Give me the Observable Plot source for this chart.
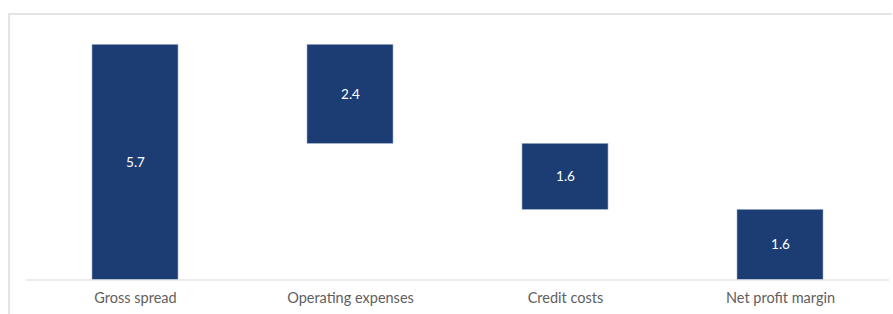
<!DOCTYPE html>
<html>
<head>
<meta charset="utf-8">
<script src="https://cdn.jsdelivr.net/npm/d3@7"></script>
<script src="https://cdn.jsdelivr.net/npm/@observablehq/plot@0.6"></script>
<style>
  html, body { margin: 0; padding: 0; background: #fff; }
  #wrap { position: relative; width: 893px; height: 314px; overflow: hidden; }
  #frame { position: absolute; left: 8px; top: 13px; width: 884px; height: 320px;
           border-top: 2px solid #e4e4e4; border-left: 2px solid #e4e4e4; box-sizing: border-box; }
  #chart { position: absolute; left: 0; top: 0; }
</style>
</head>
<body>
<div id="wrap"><div id="frame"></div><div id="chart"></div></div>
<script>
const categories = ["Gross spread", "Operating expenses", "Credit costs", "Net profit margin"];
const values = [5.7, 2.4, 1.6, 1.7];
const kinds = ["total", "decrease", "decrease", "total"];
const valueLabels = ["5.7", "2.4", "1.6", "1.6"];

let level = 0;
const rows = categories.map((c, i) => {
  let y1, y2;
  if (kinds[i] === "total") { y1 = 0; y2 = values[i]; level = values[i]; }
  else { y1 = level; y2 = level - values[i]; level = y2; }
  return { category: c, y1, y2, mid: (y1 + y2) / 2, label: valueLabels[i] };
});

const chart = Plot.plot({
  width: 893,
  height: 314,
  marginTop: 32,
  marginBottom: 34.5,
  marginLeft: 26,
  marginRight: 4,
  style: { fontFamily: "Lato, 'Open Sans', sans-serif", background: "transparent" },
  x: { domain: categories, paddingInner: 0.6, paddingOuter: 0.3, label: null },
  y: { domain: [0, 6], axis: null },
  marks: [
    Plot.rectY(rows, { x: "category", y1: "y1", y2: "y2", fill: "#1c3d73", stroke: "#9fb0cc", strokeWidth: 0.6 }),
    Plot.text(rows, { x: "category", y: "mid", text: "label", fill: "white", fontSize: 13.5 }),
    Plot.ruleY([0], { stroke: "#d9d9d9", strokeWidth: 1.2 }),
    Plot.axisX({ tickSize: 0, tickPadding: 13, fontSize: 14.5, color: "#606060", label: null })
  ]
});
document.getElementById("chart").appendChild(chart);
</script>
</body>
</html>
